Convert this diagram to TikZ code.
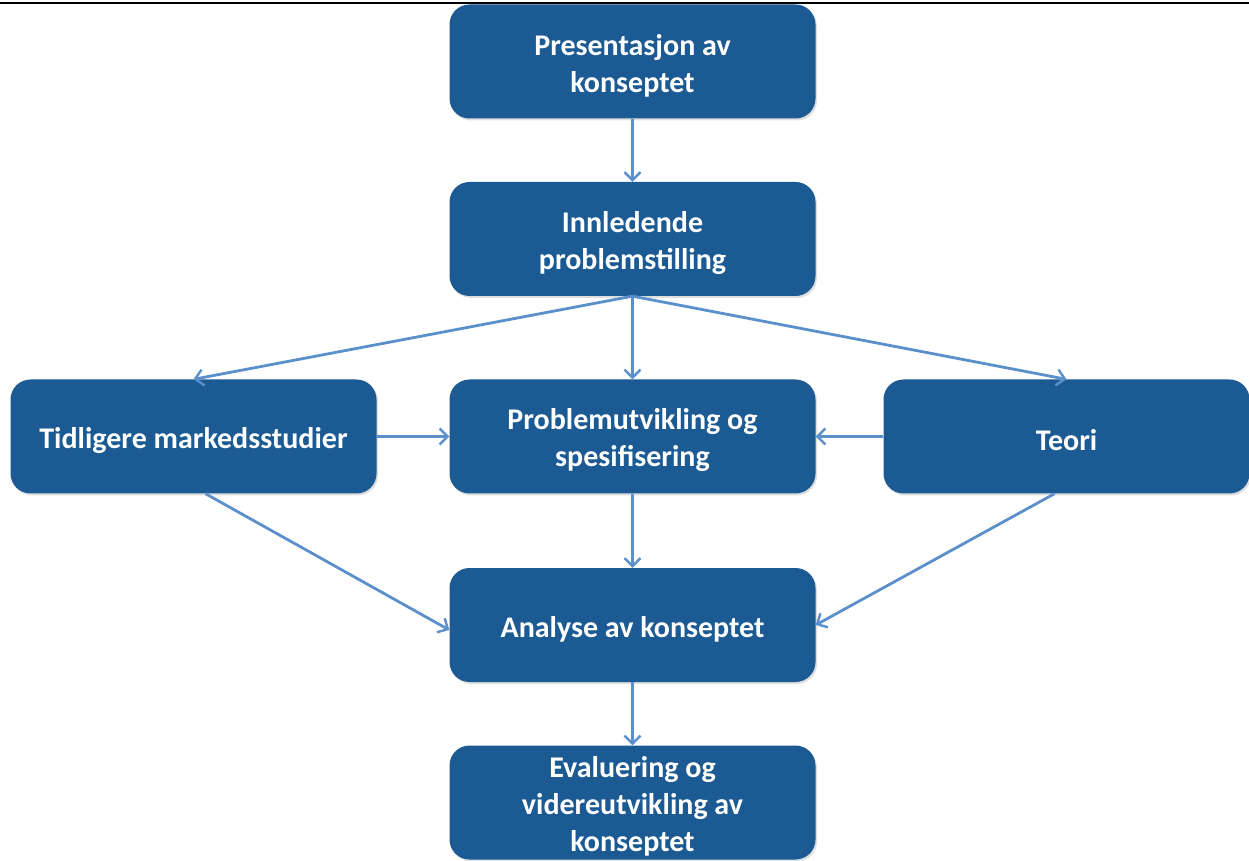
\documentclass[tikz,border=0pt]{standalone}
\usepackage{fontspec}
\setmainfont{Carlito}
\usetikzlibrary{arrows.meta,shadows}
\definecolor{boxblue}{HTML}{1B5A92}
\definecolor{arrowblue}{HTML}{5B90CC}
\begin{document}
\begin{tikzpicture}[x=1pt,y=1pt,
  flowbox/.style={draw=none,fill=boxblue,rounded corners=20pt,
    minimum width=366pt,minimum height=114pt,
    drop shadow={shadow xshift=1.5pt,shadow yshift=-2pt,opacity=0.25},
    label={[boxtext]center:#1}},
  boxtext/.style={align=center,text=white,yshift=-4pt,
    font=\fontsize{30}{37}\selectfont\bfseries},
  flow/.style={draw=arrowblue,line width=2.8pt,
    -{Straight Barb[length=8pt,width=16pt,line width=2.4pt]}}]
\useasboundingbox (0,0) rectangle (1249,860);
\clip (0,0) rectangle (1249,860);
\fill[white] (0,0) rectangle (1249,860);
% rule at the top edge
\draw[line width=2.5pt] (0,857) -- (1249,857);

\node[flowbox={Presentasjon av\\konseptet}] (pres) at (632.5,798.5) {};
\node[flowbox={Innledende\\problemstilling}] (innl) at (632.5,621) {};
\node[flowbox={Tidligere markedsstudier}] (tidl) at (193.5,423.5) {};
\node[flowbox={Problemutvikling og\\spesifisering}] (prob) at (632.5,423.5) {};
\node[flowbox={Teori}] (teori) at (1066.5,423.5) {};
\node[flowbox={Analyse av konseptet}] (anal) at (632.5,235) {};
\node[flowbox={Evaluering og\\videreutvikling av\\konseptet}] (eval) at (632.5,57.5) {};

\draw[flow] (pres.south) -- (innl.north);
\draw[flow] (innl.south) -- (tidl.north);
\draw[flow] (innl.south) -- (prob.north);
\draw[flow] (innl.south) -- (teori.north);
\draw[flow] (tidl.east) -- (prob.west);
\draw[flow] (teori.west) -- (prob.east);
\draw[flow] ([xshift=12pt]tidl.south) -- ([yshift=-5pt]anal.west);
\draw[flow] ([xshift=-12pt]teori.south) -- (anal.east);
\draw[flow] (prob.south) -- (anal.north);
\draw[flow] (anal.south) -- (eval.north);
\end{tikzpicture}
\end{document}
